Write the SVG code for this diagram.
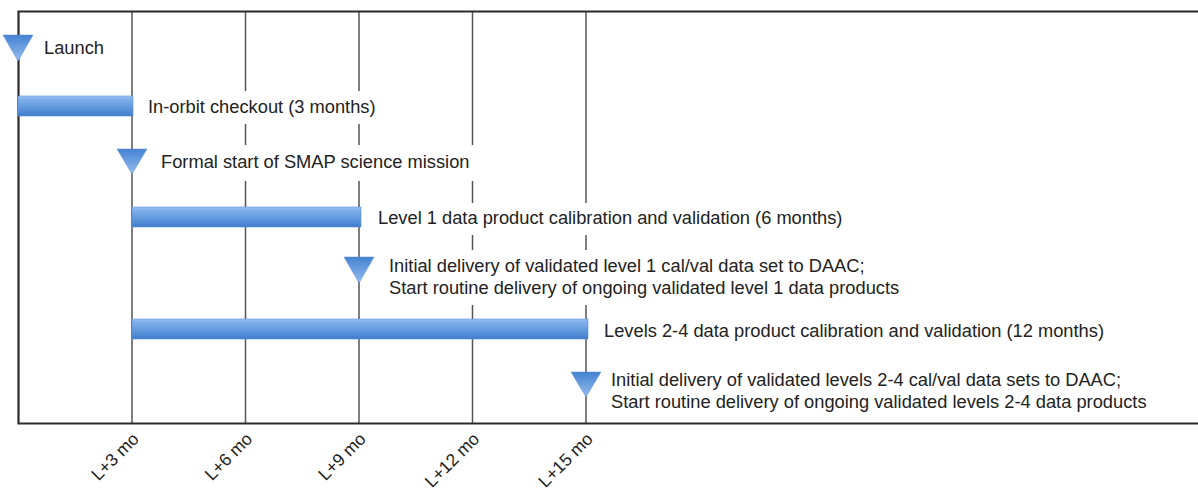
<svg xmlns="http://www.w3.org/2000/svg" width="1198" height="491" viewBox="0 0 1198 491">
<defs>
<linearGradient id="barGrad" x1="0" y1="0" x2="0" y2="1">
<stop offset="0" stop-color="#9ec4f0"/>
<stop offset="0.15" stop-color="#80b0ea"/>
<stop offset="0.6" stop-color="#5f97dd"/>
<stop offset="1" stop-color="#3f7ccb"/>
</linearGradient>
<linearGradient id="triGrad" x1="0" y1="0" x2="0" y2="1">
<stop offset="0" stop-color="#4582d2"/>
<stop offset="1" stop-color="#94bdee"/>
</linearGradient>
<style>
.grid{stroke:#555;stroke-width:1.5;fill:none}
.frame{stroke:#2a2a2a;stroke-width:2.2;fill:none}
.bar{fill:url(#barGrad);stroke:#5a8fd0;stroke-width:0.6}
.tri{fill:url(#triGrad);stroke:#5a8fd0;stroke-width:0.5}
.lbl{font-family:"Liberation Sans",Arial,sans-serif;font-size:18.3px;fill:#222}
.ax{font-family:"Liberation Sans",Arial,sans-serif;font-size:17.5px;fill:#222}
.bg{fill:#fff}
</style>
</defs>
<g id="grid">
<line class="grid" x1="132" y1="11" x2="132" y2="424"/>
<line class="grid" x1="245.5" y1="11" x2="245.5" y2="424"/>
<line class="grid" x1="359" y1="11" x2="359" y2="424"/>
<line class="grid" x1="472.5" y1="11" x2="472.5" y2="424"/>
<line class="grid" x1="586" y1="11" x2="586" y2="424"/>
</g>
<g id="frame">
<polyline class="frame" points="1198,11.5 18.5,11.5 18.5,423.5 1198,423.5"/>
</g>
<g id="launch">
<rect class="bg" x="36" y="32" width="76" height="33"/>
<text class="lbl" x="44" y="54">Launch</text>
<polygon class="tri" points="3,35 33,35 18,61"/>
</g>
<g id="checkout">
<rect class="bg" x="140" y="91" width="246" height="33"/>
<text class="lbl" x="148" y="113">In-orbit checkout (3 months)</text>
<rect class="bar" x="18" y="96" width="115" height="20"/>
</g>
<g id="formal-start">
<rect class="bg" x="153" y="145" width="330" height="36"/>
<text class="lbl" x="161" y="168">Formal start of SMAP science mission</text>
<polygon class="tri" points="117,149 147,149 132,174"/>
</g>
<g id="level1-calval">
<rect class="bg" x="370" y="203" width="492" height="32"/>
<text class="lbl" x="378" y="224">Level 1 data product calibration and validation (6 months)</text>
<rect class="bar" x="132" y="207" width="229" height="20"/>
</g>
<g id="level1-delivery">
<rect class="bg" x="381" y="250" width="540" height="55"/>
<text class="lbl" x="389" y="272">Initial delivery of validated level 1 cal/val data set to DAAC;</text>
<text class="lbl" x="389" y="294">Start routine delivery of ongoing validated level 1 data products</text>
<polygon class="tri" points="344,257 374,257 359,283"/>
</g>
<g id="level24-calval">
<text class="lbl" x="604" y="337">Levels 2-4 data product calibration and validation (12 months)</text>
<rect class="bar" x="132" y="319" width="456" height="20"/>
</g>
<g id="level24-delivery">
<text class="lbl" x="611" y="386">Initial delivery of validated levels 2-4 cal/val data sets to DAAC;</text>
<text class="lbl" x="611" y="408">Start routine delivery of ongoing validated levels 2-4 data products</text>
<polygon class="tri" points="571,372 601,372 586,397"/>
</g>
<g id="axis-labels">
<text class="ax" text-anchor="end" transform="translate(140,440) rotate(-45)">L+3 mo</text>
<text class="ax" text-anchor="end" transform="translate(253.5,440) rotate(-45)">L+6 mo</text>
<text class="ax" text-anchor="end" transform="translate(367,440) rotate(-45)">L+9 mo</text>
<text class="ax" text-anchor="end" transform="translate(480.5,440) rotate(-45)">L+12 mo</text>
<text class="ax" text-anchor="end" transform="translate(594,440) rotate(-45)">L+15 mo</text>
</g>
</svg>
